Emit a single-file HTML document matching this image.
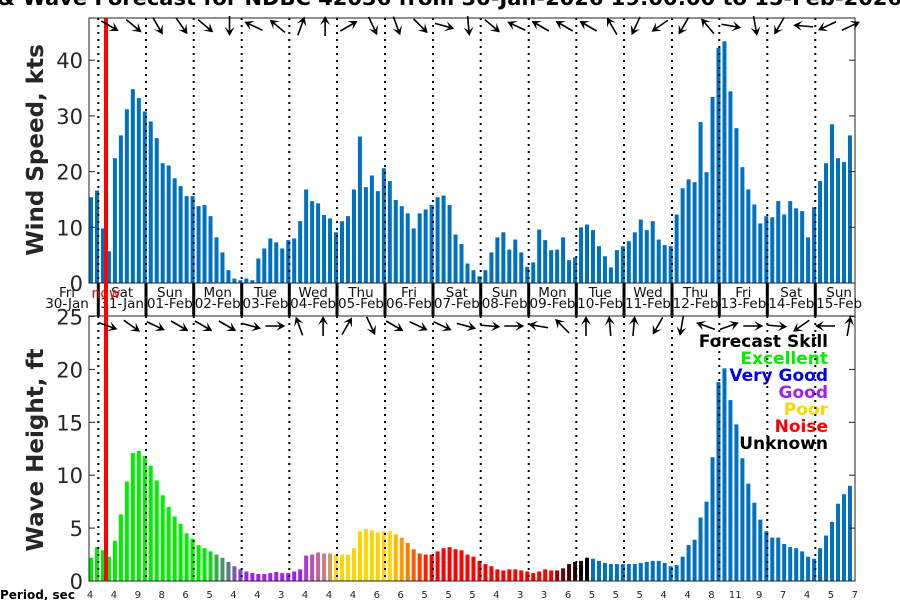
<!DOCTYPE html>
<html><head><meta charset="utf-8"><style>
html,body{margin:0;padding:0;background:#fff;width:900px;height:600px;overflow:hidden}
svg{display:block;font-family:"DejaVu Sans","Liberation Sans",sans-serif}
</style></head><body>
<svg id="s" width="900" height="600" viewBox="0 0 900 600" xmlns="http://www.w3.org/2000/svg">
<text x="-3" y="5" font-size="20" font-weight="bold" textLength="905" lengthAdjust="spacingAndGlyphs">&amp; Wave Forecast for NDBC 42036 from 30-Jan-2026 19:00:00 to 15-Feb-2026</text>
<text transform="translate(43,150) rotate(-90)" text-anchor="middle" font-size="23" font-weight="bold" fill="#262626">Wind Speed, kts</text>
<text transform="translate(43,450) rotate(-90)" text-anchor="middle" font-size="23" font-weight="bold" fill="#262626">Wave Height, ft</text>
<text x="0" y="599" font-size="12" font-weight="bold">Period, sec</text>
<g font-size="17" font-weight="bold" text-anchor="end">
<text x="828" y="347">Forecast Skill</text>
<text x="828" y="364" fill="#00ee00">Excellent</text>
<text x="828" y="381" fill="#0000ee">Very Good</text>
<text x="828" y="398" fill="#a020f0">Good</text>
<text x="828" y="415" fill="#ffd700">Poor</text>
<text x="828" y="432" fill="#ff0000">Noise</text>
<text x="828" y="449">Unknown</text>
</g>
</svg>
<script>
const S=document.getElementById('s');const NS='http://www.w3.org/2000/svg';
function el(t,a,txt){const e=document.createElementNS(NS,t);for(const k in a)e.setAttribute(k,a[k]);if(txt!=null)e.textContent=txt;S.appendChild(e);return e;}
const X0=89,X1=855,W0=283,WT=18,V0=581,VT=316;
const wind=[15.4,16.6,9.8,5.7,22.4,26.5,31.2,34.8,33.2,30.8,29.0,26.0,21.5,21.1,18.8,17.4,15.6,15.6,13.8,14.0,12.0,8.2,5.5,2.3,0.8,0.5,0.8,0.5,4.4,6.2,8.0,7.3,6.2,7.7,8.0,11.1,16.8,14.7,14.3,12.2,11.6,9.1,11.1,12.0,16.8,26.3,17.2,19.3,16.5,20.6,18.3,14.9,13.8,12.5,9.8,12.5,13.2,14.0,15.4,15.7,14.0,8.7,7.0,3.5,2.3,1.2,2.3,5.5,8.2,9.1,6.0,7.8,5.5,2.9,3.7,9.6,7.7,5.9,6.0,8.2,4.1,4.6,10.0,10.5,9.5,6.6,4.8,2.8,5.9,6.6,7.5,9.1,11.4,9.5,11.1,7.8,6.8,6.6,12.3,17.0,18.6,18.1,28.9,19.9,33.4,42.2,43.4,34.4,27.8,20.8,16.8,14.1,10.7,12.0,11.8,14.7,12.3,14.7,13.4,12.9,8.2,13.6,18.3,21.5,28.5,22.4,21.7,26.5];
const wave=[2.2,3.2,2.9,2.3,3.8,6.3,9.4,12.1,12.3,11.8,10.9,9.5,8.1,7.0,6.1,5.4,4.5,4.0,3.4,3.1,2.8,2.5,2.2,1.8,1.4,1.1,0.9,0.75,0.66,0.66,0.75,0.85,0.75,0.75,0.9,1.1,2.4,2.5,2.7,2.6,2.6,2.5,2.5,2.5,3.1,4.7,4.9,4.8,4.6,4.7,4.7,4.4,4.1,3.6,3.0,2.6,2.5,2.5,2.8,3.1,3.2,3.0,2.9,2.5,2.3,1.9,1.6,1.4,1.1,1.0,1.1,1.1,1.0,0.9,0.75,0.9,1.1,1.0,1.0,1.2,1.6,1.8,1.9,2.2,2.1,1.9,1.7,1.6,1.6,1.6,1.6,1.6,1.7,1.8,1.9,1.9,1.7,1.4,1.5,2.3,3.4,3.9,6.0,7.5,11.7,18.8,20.1,17.1,14.8,11.6,9.2,7.4,5.8,4.7,4.1,4.1,3.5,3.2,3.1,2.8,2.3,2.1,3.1,4.3,5.6,7.3,8.2,9.0];
function lerp(a,b,t){const p=s=>[parseInt(s.substr(1,2),16),parseInt(s.substr(3,2),16),parseInt(s.substr(5,2),16)];const A=p(a),B=p(b);return 'rgb('+A.map((v,i)=>Math.round(v+(B[i]-v)*t)).join(',')+')';}
function wcol(i){
 if(i<20)return '#00ee00';
 if(i<27)return lerp('#00ee00','#a020f0',(i-19)/7);
 if(i<36)return '#a020f0';
 if(i<41)return lerp('#a020f0','#e0b040',(i-35)/6);
 if(i<51)return '#ffd700';
 if(i<57)return lerp('#ffd700','#ff0000',(i-50)/7);
 if(i<78)return '#ff0000';
 if(i<84)return lerp('#c00000','#000000',(i-77)/5);
 return '#0070c0';
}
const dx=5.976,bx=91;
for(let i=0;i<128;i++){const cx=bx+i*dx;
 const h=wind[i]*5.57;el('rect',{x:cx-2,y:W0-h,width:4,height:h,fill:'#0070c0'});
 const v=wave[i]*10.58;el('rect',{x:cx-2,y:V0-v,width:4,height:v,fill:wcol(i)});
}
const div=[98.3,146,193.7,241.7,289.3,337,385,433,480.7,528.7,576.3,624,672,719.3,767.3,815.3];
for(const d of div){
 el('line',{x1:d,y1:WT,x2:d,y2:W0,stroke:'#000','stroke-width':2,'stroke-dasharray':'2,5'});
 el('line',{x1:d,y1:VT,x2:d,y2:V0,stroke:'#000','stroke-width':2,'stroke-dasharray':'2,5'});
 el('line',{x1:d,y1:W0,x2:d,y2:VT,stroke:'#000','stroke-width':3});
}
el('rect',{x:X0,y:WT,width:X1-X0,height:W0-WT,fill:'none',stroke:'#222','stroke-width':1});
el('rect',{x:X0,y:VT,width:X1-X0,height:V0-VT,fill:'none',stroke:'#222','stroke-width':1});
el('line',{x1:X1,y1:W0,x2:X1,y2:VT,stroke:'#222','stroke-width':1});
for(let k=0;k<=4;k++){const y=W0-k*55.7;
 el('text',{x:83,y:y+8,'text-anchor':'end','font-size':21,fill:'#262626'},String(k*10));
 el('line',{x1:X0,y1:y,x2:X0+6,y2:y,stroke:'#222'});el('line',{x1:X1-6,y1:y,x2:X1,y2:y,stroke:'#222'});}
for(let k=0;k<=5;k++){const y=V0-k*52.9;
 el('text',{x:83,y:y+8,'text-anchor':'end','font-size':21,fill:'#262626'},String(k*5));
 el('line',{x1:X0,y1:y,x2:X0+6,y2:y,stroke:'#222'});el('line',{x1:X1-6,y1:y,x2:X1,y2:y,stroke:'#222'});}
const days=[['Fri','30-Jan'],['Sat','31-Jan'],['Sun','01-Feb'],['Mon','02-Feb'],['Tue','03-Feb'],['Wed','04-Feb'],['Thu','05-Feb'],['Fri','06-Feb'],['Sat','07-Feb'],['Sun','08-Feb'],['Mon','09-Feb'],['Tue','10-Feb'],['Wed','11-Feb'],['Thu','12-Feb'],['Fri','13-Feb'],['Sat','14-Feb'],['Sun','15-Feb']];
days.forEach((d,i)=>{const cx=i==0?67:(i<16?(div[i-1]+div[i])/2:(815.3+863)/2);
 el('text',{x:cx,y:297,'text-anchor':'middle','font-size':13.5,fill:'#111'},d[0]);
 el('text',{x:cx,y:308,'text-anchor':'middle','font-size':13.5,fill:'#111'},d[1]);});
el('text',{x:106,y:298,'text-anchor':'middle','font-size':14,fill:'#ff0000'},'now');
el('line',{x1:106,y1:WT,x2:106,y2:V0,stroke:'#ff0000','stroke-width':4});
const per=['4','4','9','8','6','5','4','4','3','4','4','4','6','6','5','5','5','4','3','3','6','5','5','5','4','4','8','11','9','7','4','5','7'];
per.forEach((p,i)=>el('text',{x:90+i*23.9,y:598,'text-anchor':'middle','font-size':10,fill:'#222'},p));
const wa=[30,40,60,55,40,90,205,220,290,270,330,65,70,45,15,85,40,205,210,210,210,240,115,145,120,230,10,80,120,185,155,335];
const va=[20,35,25,30,30,30,15,0,250,270,300,65,30,25,25,15,5,0,190,225,270,265,275,120,100,200,340,0,5,145,180,280];
function arrow(cx,cy,ang){const r=ang*Math.PI/180,L=10,c=Math.cos(r),s=Math.sin(r);
 const x1=cx-c*L,y1=cy-s*L,x2=cx+c*L,y2=cy+s*L;
 el('line',{x1,y1,x2:x2-c*3,y2:y2-s*3,stroke:'#000','stroke-width':1.6});
 const hx=x2-c*9,hy=y2-s*9,px=-s*5,py=c*5;
 el('polygon',{points:`${x2},${y2} ${hx+px},${hy+py} ${x2-c*5},${y2-s*5} ${hx-px},${hy-py}`,fill:'#000'});}
for(let i=0;i<32;i++){const cx=110+i*23.9;arrow(cx,26,wa[i]);arrow(cx-2,326,va[i]);}
</script>
</body></html>
